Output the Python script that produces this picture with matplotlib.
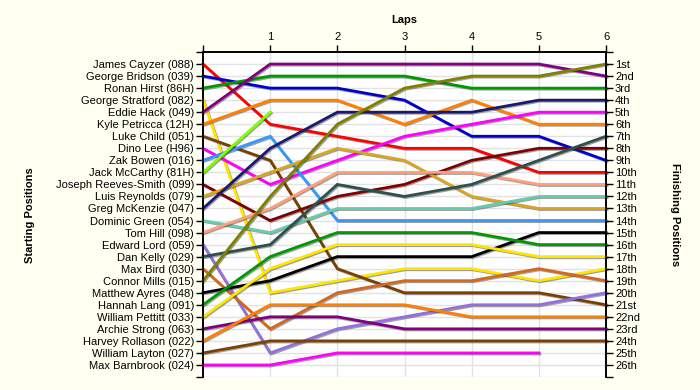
import matplotlib
matplotlib.use("Agg")
import matplotlib.pyplot as plt
import matplotlib.patheffects as pe

plt.rcParams['font.family'] = ['Liberation Sans', 'DejaVu Sans']

laps = [0, 1, 2, 3, 4, 5, 6]

drivers = [
    "James Cayzer (088)", "George Bridson (039)", "Ronan Hirst (86H)",
    "George Stratford (082)", "Eddie Hack (049)", "Kyle Petricca (12H)",
    "Luke Child (051)", "Dino Lee (H96)", "Zak Bowen (016)",
    "Jack McCarthy (81H)", "Joseph Reeves-Smith (099)", "Luis Reynolds (079)",
    "Greg McKenzie (047)", "Dominic Green (054)", "Tom Hill (098)",
    "Edward Lord (059)", "Dan Kelly (029)", "Max Bird (030)",
    "Connor Mills (015)", "Matthew Ayres (048)", "Hannah Lang (091)",
    "William Pettitt (033)", "Archie Strong (063)", "Harvey Rollason (022)",
    "William Layton (027)", "Max Barnbrook (024)",
]

# position of each driver at lap 0..6 (shorter list = retired)
positions = [
    [1, 6, 7, 8, 8, 10, 10],
    [2, 3, 3, 4, 7, 7, 9],
    [3, 2, 2, 2, 3, 3, 3],
    [4, 20, 19, 18, 18, 19, 18],
    [5, 1, 1, 1, 1, 1, 2],
    [6, 4, 4, 6, 4, 6, 6],
    [7, 9, 18, 20, 20, 20, 21],
    [8, 11, 9, 7, 6, 5, 5],
    [9, 7, 14, 14, 14, 14, 14],
    [10, 5],
    [11, 14, 12, 11, 9, 8, 8],
    [12, 10, 8, 9, 12, 13, 13],
    [13, 8, 5, 5, 5, 4, 4],
    [14, 15, 13, 13, 13, 12, 12],
    [15, 13, 10, 10, 10, 11, 11],
    [16, 25, 23, 22, 21, 21, 20],
    [17, 16, 11, 12, 11, 9, 7],
    [18, 23, 20, 19, 19, 18, 19],
    [19, 12, 6, 3, 2, 2, 1],
    [20, 19, 17, 17, 17, 15, 15],
    [21, 17, 15, 15, 15, 16, 16],
    [22, 18, 16, 16, 16, 17, 17],
    [23, 22, 22, 23, 23, 23, 23],
    [24, 21, 21, 21, 22, 22, 22],
    [25, 24, 24, 24, 24, 24, 24],
    [26, 26, 25, 25, 25, 25],
]

colors = [
    "#FF0000", "#0000CC", "#009900", "#FFE600", "#800080", "#FF8000",
    "#7B3F00", "#FF00FF", "#3399FF", "#7FFF00", "#800000", "#DAA520",
    "#191970", "#66CDAA", "#FFA07A", "#9370DB", "#2F4F4F", "#D2691E",
    "#808000", "#000000", "#009900", "#FFE600", "#800080", "#FF8000",
    "#804000", "#FF00FF",
]

finish_labels = ["1st", "2nd", "3rd"] + [f"{i}th" for i in range(4, 21)] + \
    ["21st", "22nd", "23rd", "24th", "25th", "26th"]

fig = plt.figure(figsize=(7, 3.9), dpi=100, facecolor="#FFFFF2")
ax = fig.add_axes([203 / 700, 1 - 377 / 390, (606 - 203) / 700, (377 - 52) / 390])
ax.set_facecolor("white")

n = len(drivers)
for name, pos, col in zip(drivers, positions, colors):
    ax.plot(laps[:len(pos)], pos, color=col, lw=2.0, solid_joinstyle="miter",
            path_effects=[pe.SimpleLineShadow(offset=(0.8, -0.8), alpha=0.45, shadow_color="#303030"),
                          pe.Normal()], clip_on=False, zorder=3)

ax.set_xlim(0, 6)
ax.set_ylim(n + 1, 0)

# grid
for r in range(1, n + 2):
    ax.axhline(r, color="#E2E2E2", lw=1.0, zorder=1)
for l in laps[1:-1]:
    ax.axvline(l, color="#E2E2E2", lw=1.0, zorder=1)

ax.xaxis.tick_top()
ax.set_xticks(laps)
ax.set_xticklabels([""] + [str(l) for l in laps[1:]], fontsize=8)
ax.xaxis.set_label_position("top")
ax.set_xlabel("Laps", fontsize=8, fontweight="bold", va="center")
ax.xaxis.set_label_coords(0.5, (377 - 20) / 325)

ax.set_yticks([0] + list(range(1, n + 1)) + [n + 1])
ax.set_yticklabels([""] + drivers + [""], fontsize=8)
ax.set_ylabel("Starting Positions", fontsize=8, fontweight="bold", va="center")
ax.yaxis.set_label_coords((30 - 203) / 403, (377 - 215) / 325)

ax2 = ax.twinx()
ax2.set_ylim(n + 1, 0)
ax2.set_yticks([0] + list(range(1, n + 1)) + [n + 1])
ax2.set_yticklabels([""] + finish_labels + [""], fontsize=8)
ax2.set_ylabel("Finishing Positions", fontsize=8, fontweight="bold", rotation=-90, va="center")
ax2.yaxis.set_label_coords((675 - 203) / 403, (377 - 215) / 325)

for a in (ax, ax2):
    a.tick_params(axis="both", length=5, width=1, color="black", pad=1.5)
    a.spines["bottom"].set_visible(False)
    for s in ("left", "right", "top"):
        a.spines[s].set_linewidth(1.2)
ax.tick_params(axis="x", pad=2)

fig.savefig("out.png", dpi=100, facecolor=fig.get_facecolor())
